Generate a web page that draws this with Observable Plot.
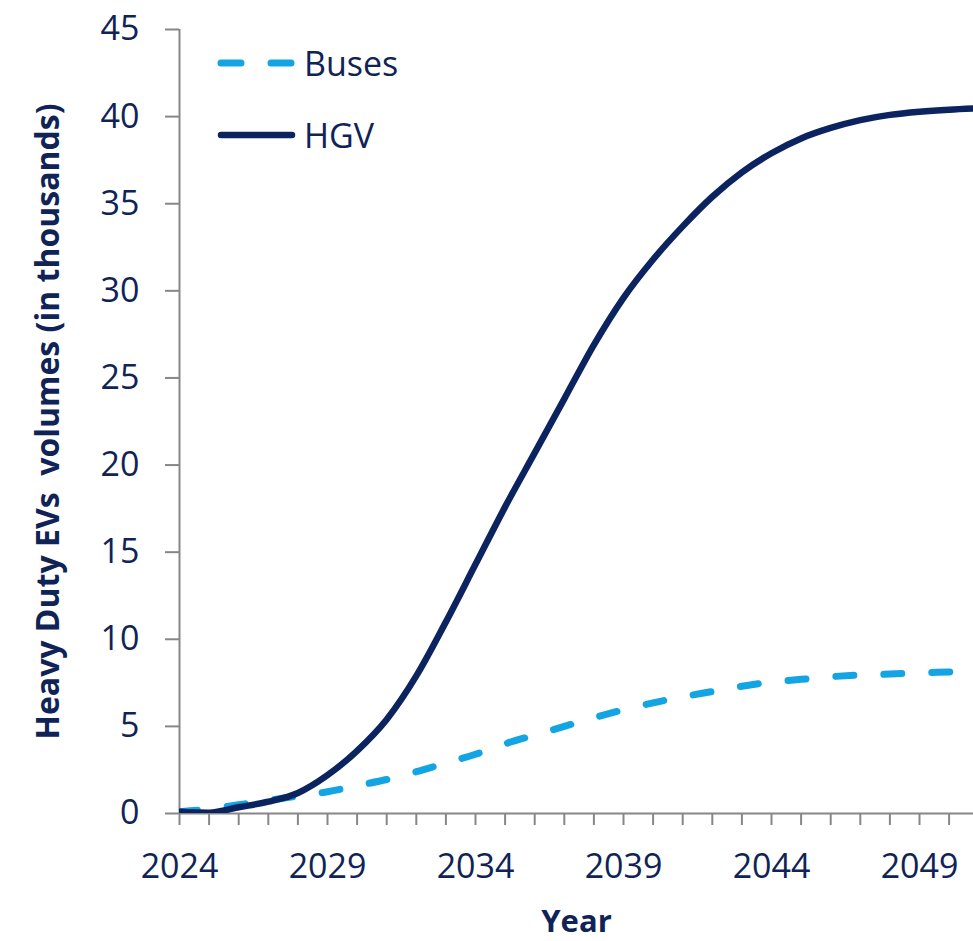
<!DOCTYPE html>
<html>
<head>
<meta charset="utf-8">
<script src="https://cdn.jsdelivr.net/npm/d3@7"></script>
<script src="https://cdn.jsdelivr.net/npm/@observablehq/plot@0.6"></script>
<style>
  html, body { margin: 0; padding: 0; background: #fff; overflow: hidden; }
  #wrap { position: relative; width: 973px; height: 941px; }
  #legend { position: absolute; left: 214px; top: 40px; font-family: "Open Sans", sans-serif; font-size: 34px; color: #0f2357; }
  .lg { position: absolute; display: flex; align-items: center; white-space: nowrap; }
  .lg span { margin-left: 6px; line-height: 1; }
</style>
</head>
<body>
<div id="wrap">
  <div id="chart"></div>
  <div id="legend"></div>
</div>
<script>
const years = [2024,2025,2026,2027,2028,2029,2030,2031,2032,2033,2034,2035,2036,2037,2038,2039,2040,2041,2042,2043,2044,2045,2046,2047,2048,2049,2050,2051];
const hgv   = [0.1,0.05,0.36,0.68,1.18,2.2,3.6,5.4,7.9,11.0,14.3,17.6,20.7,23.8,26.9,29.6,31.8,33.7,35.4,36.8,37.9,38.75,39.35,39.8,40.1,40.28,40.4,40.48];
const buses = [0.1,0.25,0.5,0.75,1.0,1.25,1.6,1.95,2.4,2.9,3.4,4.0,4.5,5.0,5.5,5.95,6.35,6.7,7.0,7.3,7.55,7.7,7.85,7.95,8.0,8.08,8.12,8.17];
const yTicks = [0,5,10,15,20,25,30,35,40,45];
const xLabelYears = [2024,2029,2034,2039,2044,2049];
const xTickYears = years.slice(0, 27);
const seriesNames = ["Buses", "HGV"];
const colors = {Buses: "#12a4e3", HGV: "#0b2460"};
const textColor = "#0f2357";
const axisGray = "#878787";

const rows = [];
years.forEach((y, i) => {
  rows.push({year: y, value: buses[i], series: "Buses"});
  rows.push({year: y, value: hgv[i], series: "HGV"});
});

const chart = Plot.plot({
  width: 973,
  height: 941,
  marginTop: 29,
  marginBottom: 128,
  marginLeft: 179,
  marginRight: 0,
  style: {fontFamily: "'Open Sans', sans-serif", background: "#fff", color: textColor},
  x: {domain: [2024, 2024 + 794 / 29.6]},
  y: {domain: [0, 45]},
  marks: [
    Plot.axisY({ticks: yTicks, tickSize: 14, tickPadding: 26, fontSize: 34, stroke: axisGray, strokeWidth: 2, fill: textColor, label: null}),
    Plot.axisX({ticks: xTickYears, tickSize: 12, tickFormat: () => "", stroke: axisGray, strokeWidth: 2, label: null}),
    Plot.axisX({ticks: xLabelYears, tickSize: 0, tickPadding: 40, fontSize: 34, fill: textColor, tickFormat: d => String(d), label: null}),
    Plot.ruleX([2024], {stroke: axisGray, strokeWidth: 2}),
    Plot.ruleY([0], {stroke: axisGray, strokeWidth: 2}),
    Plot.line(rows.filter(d => d.series === "Buses"), {x: "year", y: "value", stroke: colors.Buses, strokeWidth: 7, strokeDasharray: "18,30", strokeLinecap: "round", curve: "monotone-x", clip: true}),
    Plot.line(rows.filter(d => d.series === "HGV"), {x: "year", y: "value", stroke: colors.HGV, strokeWidth: 6.5, strokeLinecap: "round", curve: "monotone-x", clip: true}),
    Plot.text(["Heavy Duty EVs\u00a0 volumes (in thousands)"], {frameAnchor: "left", textAnchor: "middle", rotate: -90, dx: -131, fontSize: 32, fontWeight: "bold", fill: textColor}),
    Plot.text(["Year"], {frameAnchor: "bottom", textAnchor: "middle", dy: 118, fontSize: 31, fontWeight: "bold", fill: textColor})
  ]
});
document.getElementById("chart").appendChild(chart);

// Legend
const legend = document.getElementById("legend");
seriesNames.forEach((name, i) => {
  const item = document.createElement("div");
  item.className = "lg";
  item.style.top = (i * 72) + "px";
  const dashed = name === "Buses";
  item.innerHTML = `<svg width="84" height="46"><line x1="7" y1="23" x2="78" y2="23" stroke="${colors[name]}" stroke-width="${dashed ? 7 : 6.5}" stroke-linecap="round" ${dashed ? 'stroke-dasharray="20,30"' : ''}/></svg><span>${name}</span>`;
  legend.appendChild(item);
});
</script>
</body>
</html>
